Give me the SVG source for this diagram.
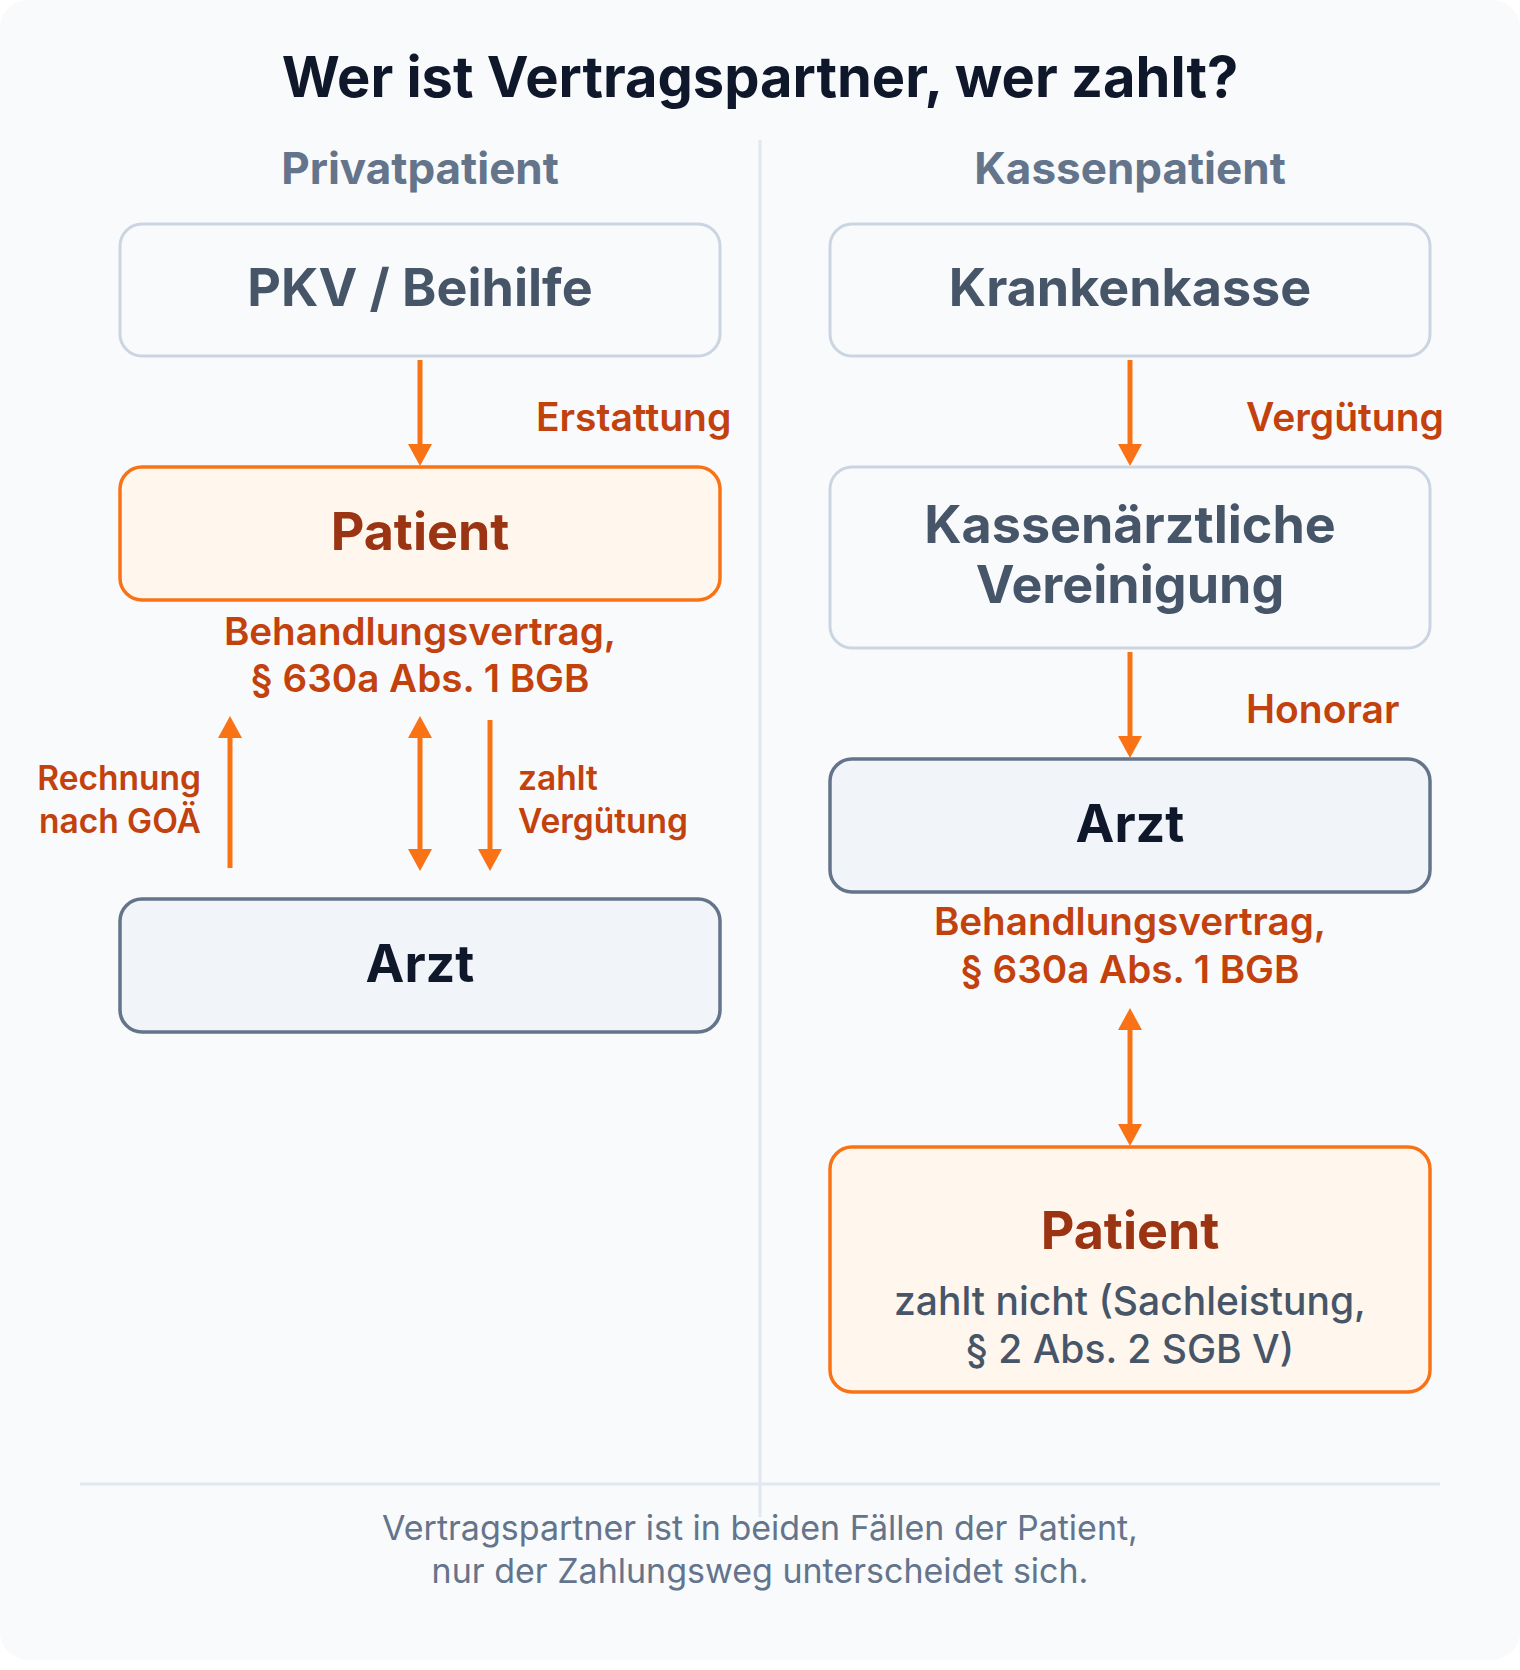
<svg xmlns="http://www.w3.org/2000/svg" width="1520" height="1670" viewBox="0 0 1520 1670">
<defs>
<style>
text{font-family:Inter,"Noto Sans","DejaVu Sans",sans-serif;}
.title{font-size:56px;font-weight:700;fill:#0f172a;text-anchor:middle;}
.col{font-size:44px;font-weight:700;fill:#64748b;text-anchor:middle;}
.nl{font-size:52px;font-weight:700;text-anchor:middle;}
.grey{fill:#475569;}
.dark{fill:#0f172a;}
.pat{fill:#9a3412;}
.boxg{fill:#f8fafc;stroke:#cbd5e1;stroke-width:3;}
.boxp{fill:#fff7ed;stroke:#f97316;stroke-width:3.5;}
.boxa{fill:#f1f5f9;stroke:#64748b;stroke-width:3.5;}
.el{font-size:39px;font-weight:600;fill:#c2410c;}
.ct{font-size:38.6px;font-weight:600;fill:#c2410c;text-anchor:middle;}
.es{font-size:33.5px;font-weight:600;fill:#c2410c;}
.sub{font-size:39px;font-weight:500;fill:#475569;text-anchor:middle;}
.foot{font-size:34px;font-weight:400;fill:#64748b;text-anchor:middle;}
.end{text-anchor:end;}
.arr{stroke:#f97316;stroke-width:5;fill:none;}
</style>
<marker id="ah" markerUnits="userSpaceOnUse" markerWidth="24" markerHeight="24" refX="2" refY="12" orient="auto-start-reverse" viewBox="0 0 22 24">
<path d="M0,0 L22,12 L0,24 z" fill="#f97316"/>
</marker>
</defs>
<rect x="0" y="0" width="1520" height="1670" fill="#ffffff"/>
<rect x="0" y="0" width="1520" height="1660" rx="28" fill="#f8fafc"/>
<text class="title" x="760" y="97">Wer ist Vertragspartner, wer zahlt?</text>
<line x1="760" y1="140" x2="760" y2="1517" stroke="#e2e8f0" stroke-width="3"/>
<line x1="80" y1="1484" x2="1440" y2="1484" stroke="#e2e8f0" stroke-width="3"/>
<text class="col" x="420" y="184">Privatpatient</text>
<text class="col" x="1130" y="184">Kassenpatient</text>

<g id="connectors">
<line class="arr" x1="420" y1="360" x2="420" y2="446" marker-end="url(#ah)"/>
<line class="arr" x1="230" y1="868" x2="230" y2="736" marker-end="url(#ah)"/>
<line class="arr" x1="420" y1="736" x2="420" y2="851" marker-start="url(#ah)" marker-end="url(#ah)"/>
<line class="arr" x1="490" y1="720" x2="490" y2="851" marker-end="url(#ah)"/>
<line class="arr" x1="1130" y1="360" x2="1130" y2="446" marker-end="url(#ah)"/>
<line class="arr" x1="1130" y1="652" x2="1130" y2="738" marker-end="url(#ah)"/>
<line class="arr" x1="1130" y1="1028" x2="1130" y2="1126" marker-start="url(#ah)" marker-end="url(#ah)"/>
<text class="el" x="536" y="431">Erstattung</text>
<text class="es end" x="201" y="790">Rechnung</text>
<text class="es end" x="201" y="833">nach GOÄ</text>
<text class="es" x="518" y="790">zahlt</text>
<text class="es" x="518" y="833">Vergütung</text>
<text class="ct" x="420" y="645">Behandlungsvertrag,</text>
<text class="ct" x="420" y="692">§ 630a Abs. 1 BGB</text>
<text class="el" x="1246" y="431">Vergütung</text>
<text class="el" x="1246" y="723">Honorar</text>
<text class="ct" x="1130" y="935">Behandlungsvertrag,</text>
<text class="ct" x="1130" y="983">§ 630a Abs. 1 BGB</text>
</g>

<g id="pkv">
<rect class="boxg" x="120" y="224" width="600" height="132" rx="22"/>
<text class="nl grey" x="420" y="306">PKV / Beihilfe</text>
</g>
<g id="patient-privat">
<rect class="boxp" x="120" y="467" width="600" height="133" rx="22"/>
<text class="nl pat" x="420" y="550">Patient</text>
</g>
<g id="arzt-privat">
<rect class="boxa" x="120" y="899" width="600" height="133" rx="22"/>
<text class="nl dark" x="420" y="982">Arzt</text>
</g>
<g id="krankenkasse">
<rect class="boxg" x="830" y="224" width="600" height="132" rx="22"/>
<text class="nl grey" x="1130" y="306">Krankenkasse</text>
</g>
<g id="kv">
<rect class="boxg" x="830" y="467" width="600" height="181" rx="22"/>
<text class="nl grey" x="1130" y="543">Kassenärztliche</text>
<text class="nl grey" x="1130" y="603">Vereinigung</text>
</g>
<g id="arzt-kasse">
<rect class="boxa" x="830" y="759" width="600" height="133" rx="22"/>
<text class="nl dark" x="1130" y="842">Arzt</text>
</g>
<g id="patient-kasse">
<rect class="boxp" x="830" y="1147" width="600" height="245" rx="22"/>
<text class="nl pat" x="1130" y="1249">Patient</text>
<text class="sub" x="1130" y="1315">zahlt nicht (Sachleistung,</text>
<text class="sub" x="1130" y="1363">§ 2 Abs. 2 SGB V)</text>
</g>
<text class="foot" x="760" y="1540">Vertragspartner ist in beiden Fällen der Patient,</text>
<text class="foot" x="760" y="1583">nur der Zahlungsweg unterscheidet sich.</text>
</svg>
